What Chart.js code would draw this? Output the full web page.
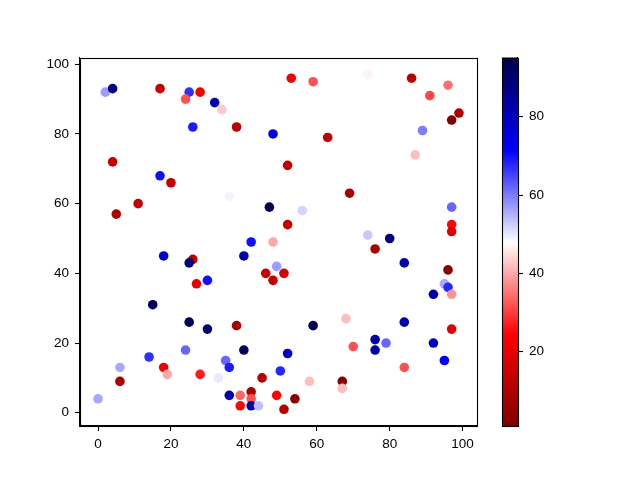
<!DOCTYPE html>
<html>
<head>
<meta charset="utf-8">
<script src="https://cdn.jsdelivr.net/npm/chart.js@4/dist/chart.umd.min.js"></script>
<style>
  html, body { margin: 0; padding: 0; background: #ffffff; }
  #wrap { position: relative; width: 640px; height: 480px; }
  canvas { position: absolute; left: 0; top: 0; }
</style>
</head>
<body>
<div id="wrap">
  <canvas id="main" width="640" height="480"></canvas>
  <canvas id="cbar" width="640" height="480"></canvas>
</div>
<script>
const xVals = [2,4,17,25,28,24,32,34,26,38,48,4,17,20,53,59,74,86,96,91,99,97,89,63,87,52,11,5,36,47,
  42,48,18,26,25,40,49,46,51,48,30,27,69,56,52,97,97,97,74,80,76,84,96,95,96,92,97,15,25,30,
  38,40,24,14,6,6,0,18,19,28,33,35,36,36,39,39,42,42,42,44,45,49,50,51,59,68,52,58,67,67,
  54,70,76,76,79,84,84,92,95,97];
const yVals = [92,93,93,92,92,90,89,87,82,82,80,72,68,66,96,95,97,96,94,91,86,84,81,79,74,71,60,57,62,59,
  49,49,45,44,43,45,42,40,40,38,38,37,63,58,54,59,54,52,51,50,47,43,41,37,36,34,34,31,26,24,
  25,18,18,16,13,9,4,13,11,11,10,15,13,5,5,2,6,4,2,2,10,5,12,1,25,27,17,9,9,7,
  4,19,21,18,20,26,13,20,15,24];
const cVals = [57,88,14,67,22,32,83,43,69,12,76,14,70,14,22,32,47,12,35,31,9,1,60,12,42,14,14,9,49,95,
  70,40,78,12,89,83,57,14,17,14,70,21,9,52,14,62,25,18,53,89,9,83,3,56,68,83,38,94,93,91,
  9,94,62,67,56,9,56,21,40,27,50,62,69,83,34,25,9,32,83,54,11,25,68,11,94,42,80,42,3,42,
  3,32,83,83,62,83,32,80,73,18];
const xTicks = [0,20,40,60,80,100];
const yTicks = [0,20,40,60,80,100];
const cbTicks = [20,40,60,80];

const cMin = Math.min(...cVals), cMax = Math.max(...cVals);

// seismic_r colormap
const stops = [
  [0.00, [127.5, 0, 0]],
  [0.25, [255, 0, 0]],
  [0.50, [255, 255, 255]],
  [0.75, [0, 0, 255]],
  [1.00, [0, 0, 76.5]]
];
function cmap(t) {
  t = Math.max(0, Math.min(1, t));
  for (let i = 0; i < stops.length - 1; i++) {
    const [t0, c0] = stops[i], [t1, c1] = stops[i + 1];
    if (t <= t1) {
      const f = (t - t0) / (t1 - t0);
      const c = c0.map((v, k) => Math.round(v + (c1[k] - v) * f));
      return `rgb(${c[0]},${c[1]},${c[2]})`;
    }
  }
  return 'rgb(0,0,76)';
}
const colors = cVals.map(c => cmap((c - cMin) / (cMax - cMin)));

const FONT = { family: '"Liberation Sans", Arial, sans-serif', size: 13.5 };

const framePlugin = {
  id: 'frame',
  afterDraw(chart) {
    const a = chart.chartArea, ctx = chart.ctx;
    ctx.save();
    ctx.strokeStyle = '#000';
    ctx.lineWidth = 1.1;
    ctx.strokeRect(Math.round(a.left) + 0.5, Math.round(a.top) + 0.5,
                   Math.round(a.right - a.left), Math.round(a.bottom - a.top));
    ctx.restore();
  }
};

function axisCommon(ticksArr, fit, pad) {
  return {
    type: 'linear',
    grid: { drawOnChartArea: false, drawTicks: true, tickLength: 5, tickWidth: 1.1, color: '#000' },
    border: { display: true, color: '#000', width: 1.1 },
    ticks: { color: '#000', font: FONT, padding: pad },
    afterBuildTicks: s => { s.ticks = ticksArr.map(v => ({ value: v })); },
    afterFit: fit
  };
}

new Chart(document.getElementById('main'), {
  type: 'scatter',
  data: {
    datasets: [{
      data: xVals.map((x, i) => ({ x: x, y: yVals[i] })),
      backgroundColor: colors,
      borderWidth: 0,
      pointRadius: 4.8,
      pointHoverRadius: 4.8
    }]
  },
  options: {
    responsive: false,
    animation: false,
    devicePixelRatio: 1,
    layout: { padding: { left: 0, right: 163, top: 58, bottom: 0 } },
    plugins: { legend: { display: false }, tooltip: { enabled: false } },
    scales: {
      x: Object.assign(axisCommon(xTicks, s => { s.height = 54; }, 5), { position: 'bottom', min: -4.95, max: 103.95 }),
      y: Object.assign(axisCommon(yTicks, s => { s.width = 80; }, 6), { position: 'left', min: -3.8, max: 101.8 })
    }
  },
  plugins: [framePlugin]
});

const gradientPlugin = {
  id: 'cbgrad',
  beforeDatasetsDraw(chart) {
    const a = chart.chartArea, ctx = chart.ctx, ys = chart.scales.y;
    const n = 256;
    ctx.save();
    for (let i = 0; i < n; i++) {
      const v0 = cMin + (cMax - cMin) * i / n;
      const v1 = cMin + (cMax - cMin) * (i + 1) / n;
      const p0 = ys.getPixelForValue(v0), p1 = ys.getPixelForValue(v1);
      ctx.fillStyle = cmap((i + 0.5) / n);
      ctx.fillRect(a.left, Math.min(p0, p1) - 0.5, a.right - a.left, Math.abs(p1 - p0) + 1);
    }
    ctx.restore();
  }
};

new Chart(document.getElementById('cbar'), {
  type: 'scatter',
  data: { datasets: [{ data: [] }] },
  options: {
    responsive: false,
    animation: false,
    devicePixelRatio: 1,
    layout: { padding: { left: 502, right: 82, top: 58, bottom: 54 } },
    plugins: { legend: { display: false }, tooltip: { enabled: false } },
    scales: {
      x: { type: 'linear', display: false, min: 0, max: 1 },
      y: Object.assign(axisCommon(cbTicks, s => { s.width = 40; }, 6), { position: 'right', min: cMin, max: cMax })
    }
  },
  plugins: [gradientPlugin, framePlugin]
});
</script>
</body>
</html>
